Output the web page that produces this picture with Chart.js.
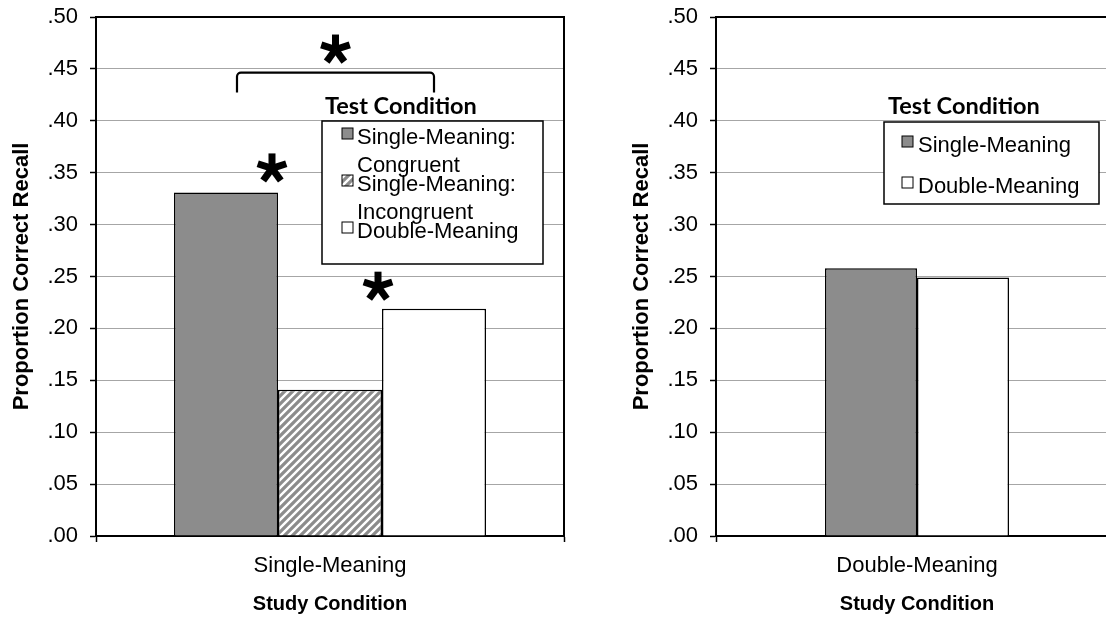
<!DOCTYPE html>
<html>
<head>
<meta charset="utf-8">
<script src="https://cdn.jsdelivr.net/npm/chart.js@4.4.0/dist/chart.umd.min.js"></script>
<style>
  html, body { margin: 0; padding: 0; background: #fff; overflow: hidden; width: 1106px; height: 619px; }
  canvas { position: absolute; top: 0; }
  #leftChart { left: 0; }
  #rightChart { left: 620px; }
</style>
</head>
<body>
<canvas id="leftChart" width="600" height="619"></canvas>
<canvas id="rightChart" width="520" height="619"></canvas>
<script>
// ---- data ----
const yTickValues = [0, 0.05, 0.10, 0.15, 0.20, 0.25, 0.30, 0.35, 0.40, 0.45, 0.50];
const yTickLabels = ['.00', '.05', '.10', '.15', '.20', '.25', '.30', '.35', '.40', '.45', '.50'];

const leftStudy = ['Single-Meaning'];
const leftSeries = ['Single-Meaning: Congruent', 'Single-Meaning: Incongruent', 'Double-Meaning'];
const leftValues = [0.331, 0.141, 0.219];

const rightStudy = ['Double-Meaning'];
const rightSeries = ['Single-Meaning', 'Double-Meaning'];
const rightValues = [0.258, 0.249];

// ---- styles ----
const FONT = "'Liberation Sans', Arial, sans-serif";
const GREY = '#8c8c8c';

function makeHatch() {
  const c = document.createElement('canvas');
  c.width = 8; c.height = 8;
  const g = c.getContext('2d');
  g.fillStyle = GREY;
  g.fillRect(0, 0, 8, 8);
  g.strokeStyle = '#fff';
  g.lineWidth = 2.4;
  g.beginPath();
  g.moveTo(-2, 10); g.lineTo(10, -2);
  g.moveTo(-6, 6); g.lineTo(6, -6);
  g.moveTo(2, 14); g.lineTo(14, 2);
  g.stroke();
  return g.createPattern(c, 'repeat');
}
const hatch = makeHatch();

// asterisk with five heavy arms
function drawStar(ctx, cx, cy) {
  ctx.save();
  ctx.strokeStyle = '#000';
  ctx.lineWidth = 7;
  ctx.lineCap = 'butt';
  for (let k = 0; k < 5; k++) {
    const a = -Math.PI / 2 + k * 2 * Math.PI / 5;
    ctx.beginPath();
    ctx.moveTo(cx, cy);
    ctx.lineTo(cx + 15 * Math.cos(a), cy + 15 * Math.sin(a));
    ctx.stroke();
  }
  ctx.restore();
}

// top + right frame of the plot area
const frame = {
  id: 'frame',
  afterDraw(chart) {
    const { ctx, chartArea: a } = chart;
    ctx.save();
    ctx.strokeStyle = '#000';
    ctx.lineWidth = 2;
    ctx.beginPath();
    ctx.moveTo(a.left, a.top);
    ctx.lineTo(a.right, a.top);
    ctx.lineTo(a.right, a.bottom);
    ctx.stroke();
    ctx.restore();
  }
};

// legend box with title sitting above it
const boxLegend = {
  id: 'boxLegend',
  afterDraw(chart, args, opts) {
    const ctx = chart.ctx;
    ctx.save();
    ctx.fillStyle = '#000';
    ctx.font = "bold 23.5px Lato, 'Open Sans', sans-serif";
    ctx.textBaseline = 'middle';
    ctx.textAlign = 'left';
    ctx.fillText('Test Condition', opts.titleX, opts.titleY);

    const b = opts.box;
    ctx.fillStyle = '#fff';
    ctx.fillRect(b[0], b[1], b[2], b[3]);
    ctx.strokeStyle = '#000';
    ctx.lineWidth = 1.5;
    ctx.strokeRect(b[0], b[1], b[2], b[3]);

    ctx.font = '22px ' + FONT;
    chart.data.datasets.forEach(function (ds, i) {
      const y = opts.itemY[i];
      ctx.fillStyle = ds.backgroundColor;
      ctx.fillRect(opts.markX, y - 10, 11, 11);
      ctx.strokeStyle = '#000';
      ctx.lineWidth = 1;
      ctx.strokeRect(opts.markX, y - 10, 11, 11);
      ctx.fillStyle = '#000';
      const parts = ds.label.indexOf(': ') > -1 ? ds.label.replace(': ', ':\n').split('\n') : [ds.label];
      parts.forEach(function (t, j) {
        ctx.fillText(t, opts.textX, y + j * opts.lineGap);
      });
    });
    ctx.restore();
  }
};

// significance marks for the left panel
const marks = {
  id: 'marks',
  afterDraw(chart) {
    const ctx = chart.ctx;
    const b1 = chart.getDatasetMeta(0).data[0];
    const b3 = chart.getDatasetMeta(2).data[0];
    const ys = chart.scales.y;
    drawStar(ctx, b1.x + b1.width / 2 - 6, b1.y - 24);
    drawStar(ctx, b3.x - b3.width / 2 - 4, b3.y - 22);

    const top = ys.getPixelForValue(0.4465);
    const x0 = b1.x + 11;
    const x1 = b3.x;
    ctx.save();
    ctx.strokeStyle = '#000';
    ctx.lineWidth = 2.2;
    ctx.lineJoin = 'round';
    ctx.beginPath();
    ctx.moveTo(x0, top + 20);
    ctx.arcTo(x0, top, x0 + 4, top, 4);
    ctx.lineTo(x1 - 4, top);
    ctx.arcTo(x1, top, x1, top + 20, 4);
    ctx.lineTo(x1, top + 20);
    ctx.stroke();
    ctx.restore();
    drawStar(ctx, (x0 + x1) / 2, top - 23);
  }
};

function baseOptions(padRight, catPct, legendOpts) {
  return {
    responsive: false,
    animation: false,
    layout: { padding: { top: 17, right: padRight, left: 0, bottom: 0 } },
    plugins: {
      legend: { display: false },
      tooltip: { enabled: false },
      boxLegend: legendOpts,
    },
    datasets: { bar: { categoryPercentage: catPct, barPercentage: 1 } },
    scales: {
      x: {
        grid: { offset: true, drawOnChartArea: false, tickLength: 6, tickColor: '#000', tickWidth: 1.5 },
        border: { color: '#000', width: 2 },
        ticks: { color: '#000', font: { family: FONT, size: 22 }, padding: 11 },
        title: {
          display: true, text: 'Study Condition', color: '#000',
          font: { family: FONT, size: 20, weight: 'bold' }, padding: { top: 0, bottom: 3 },
        },
        afterFit(s) { s.height = 83; },
      },
      y: {
        min: 0,
        max: 0.5,
        afterBuildTicks(s) { s.ticks = yTickValues.map(function (v) { return { value: v }; }); },
        grid: { color: '#a6a6a6', lineWidth: 1, tickLength: 6, tickColor: '#000', tickWidth: 1.5 },
        border: { color: '#000', width: 2 },
        ticks: {
          color: '#000', font: { family: FONT, size: 22 }, padding: 12,
          callback: function (v, i) { return yTickLabels[i]; },
        },
        title: {
          display: true, text: 'Proportion Correct Recall', color: '#000',
          font: { family: FONT, size: 22, weight: 'bold' }, padding: { top: 9, bottom: 0 },
        },
        afterFit(s) { s.width = 96; s.paddingTop = 0; s.paddingBottom = 0; },
      },
    },
  };
}

// LEFT PANEL
new Chart(document.getElementById('leftChart'), {
  type: 'bar',
  data: {
    labels: leftStudy,
    datasets: [
      { label: leftSeries[0], data: [leftValues[0]], backgroundColor: GREY, borderColor: '#000', borderWidth: 1.5 },
      { label: leftSeries[1], data: [leftValues[1]], backgroundColor: hatch, borderColor: '#000', borderWidth: 1.5 },
      { label: leftSeries[2], data: [leftValues[2]], backgroundColor: '#fff', borderColor: '#000', borderWidth: 1.5 },
    ],
  },
  options: baseOptions(36, 0.6667, {
    titleX: 325, titleY: 106,
    box: [322, 121, 221, 143],
    markX: 342, textX: 357,
    itemY: [138, 185, 232], lineGap: 28,
  }),
  plugins: [frame, marks, boxLegend],
});

// RIGHT PANEL
new Chart(document.getElementById('rightChart'), {
  type: 'bar',
  data: {
    labels: rightStudy,
    datasets: [
      { label: rightSeries[0], data: [rightValues[0]], backgroundColor: GREY, borderColor: '#000', borderWidth: 1.5 },
      { label: rightSeries[1], data: [rightValues[1]], backgroundColor: '#fff', borderColor: '#000', borderWidth: 1.5 },
    ],
  },
  options: baseOptions(22, 0.4577, {
    titleX: 268, titleY: 106,
    box: [264, 122, 215, 82],
    markX: 282, textX: 298,
    itemY: [146, 187], lineGap: 0,
  }),
  plugins: [frame, boxLegend],
});
</script>
</body>
</html>
